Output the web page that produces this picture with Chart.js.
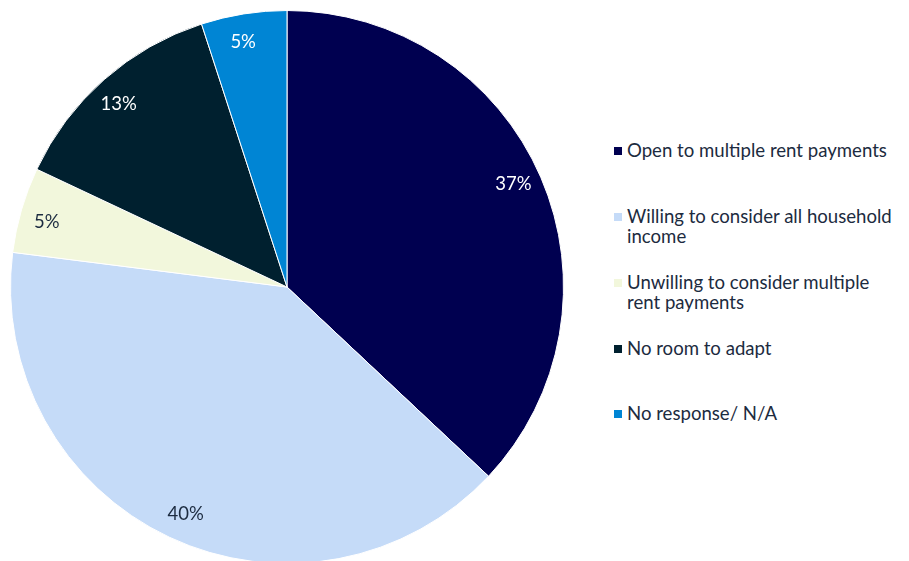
<!DOCTYPE html>
<html>
<head>
<meta charset="utf-8">
<script src="https://cdn.jsdelivr.net/npm/chart.js@4/dist/chart.umd.min.js"></script>
<style>
  html, body { margin: 0; padding: 0; background: #ffffff; }
  #wrap { position: relative; width: 909px; height: 561px; overflow: hidden; }
  #pieBox { position: absolute; left: 10px; top: 10px; width: 554px; height: 554px; }
  #legend { position: absolute; left: 614px; top: 0; font-family: Lato, "Noto Sans", sans-serif; font-size: 18.6px; color: #1c2b40; }
  .item { position: absolute; left: 0; width: 295px; line-height: 20px; padding-left: 13px; white-space: nowrap; }
  .item .sw { position: absolute; left: 0; top: 7px; width: 8px; height: 8px; }
</style>
</head>
<body>
<div id="wrap">
  <div id="pieBox"><canvas id="pie"></canvas></div>
  <div id="legend"></div>
</div>
<script>
const categories = [
  "Open to multiple rent payments",
  "Willing to consider all household income",
  "Unwilling to consider multiple rent payments",
  "No room to adapt",
  "No response/ N/A"
];
// legend text as wrapped lines
const legendLines = [
  ["Open to multiple rent payments"],
  ["Willing to consider all household", "income"],
  ["Unwilling to consider multiple", "rent payments"],
  ["No room to adapt"],
  ["No response/ N/A"]
];
const shares = [37, 40, 5, 13, 5];
const sliceColors = ["#000050", "#c5dbf8", "#f2f7dc", "#00202f", "#0085d4"];
const labelColors = ["#ffffff", "#1c2b40", "#1c2b40", "#ffffff", "#ffffff"];
const legendTops = [140, 206, 272, 338, 403];

const sliceLabels = {
  id: 'sliceLabels',
  afterDatasetsDraw(chart) {
    const ctx = chart.ctx;
    const meta = chart.getDatasetMeta(0);
    ctx.save();
    ctx.font = '18.5px Lato, "Noto Sans", sans-serif';
    ctx.textAlign = 'center';
    ctx.textBaseline = 'middle';
    meta.data.forEach((arc, i) => {
      const p = arc.getProps(['x', 'y', 'startAngle', 'endAngle', 'outerRadius'], true);
      const mid = (p.startAngle + p.endAngle) / 2 - 0.02;
      const r = p.outerRadius * 0.9;
      ctx.fillStyle = labelColors[i];
      ctx.fillText(shares[i] + '%', p.x + Math.cos(mid) * r, p.y + Math.sin(mid) * r);
    });
    ctx.restore();
  }
};

new Chart(document.getElementById('pie'), {
  type: 'pie',
  data: {
    labels: categories,
    datasets: [{
      data: shares,
      backgroundColor: sliceColors,
      borderColor: '#ffffff',
      borderWidth: 1
    }]
  },
  options: {
    responsive: true,
    maintainAspectRatio: false,
    animation: false,
    layout: { padding: 0 },
    plugins: {
      legend: { display: false },
      tooltip: { enabled: false }
    }
  },
  plugins: [sliceLabels]
});

// legend
const legendEl = document.getElementById('legend');
legendLines.forEach((lines, i) => {
  const div = document.createElement('div');
  div.className = 'item';
  div.style.top = legendTops[i] + 'px';
  const sw = document.createElement('span');
  sw.className = 'sw';
  sw.style.background = sliceColors[i];
  div.appendChild(sw);
  lines.forEach((t, j) => {
    if (j) div.appendChild(document.createElement('br'));
    div.appendChild(document.createTextNode(t));
  });
  legendEl.appendChild(div);
});
</script>
</body>
</html>
